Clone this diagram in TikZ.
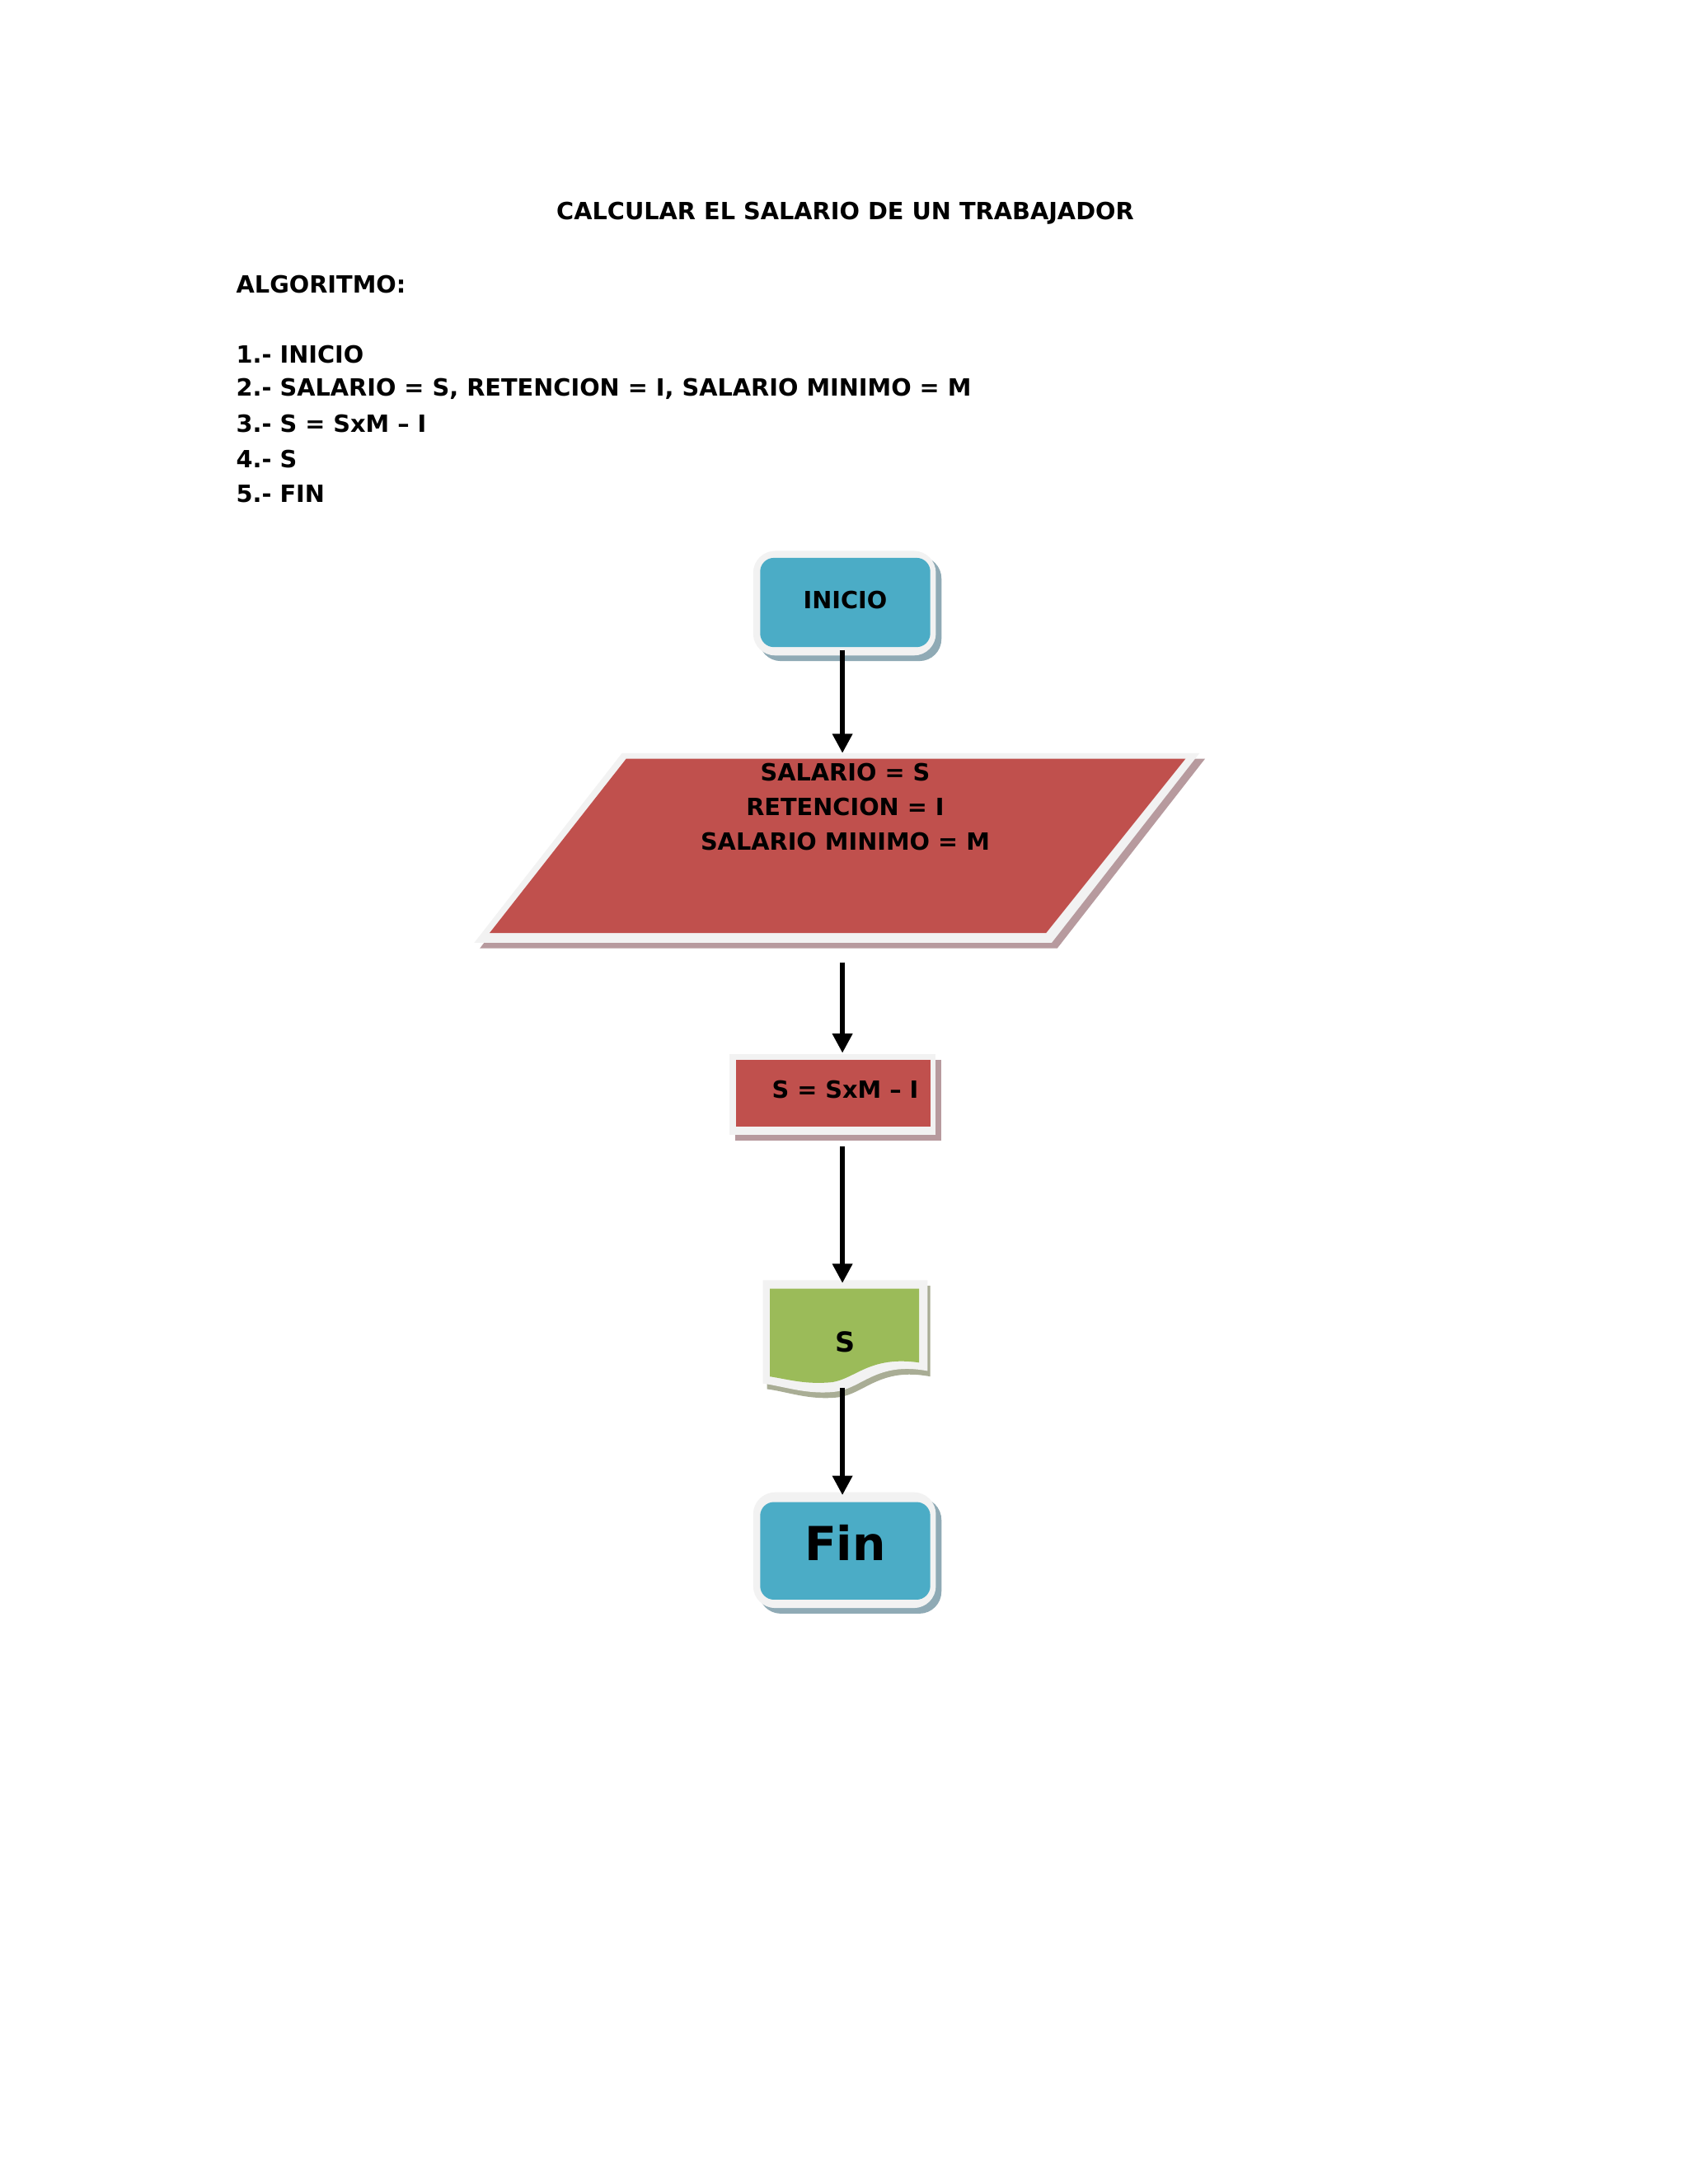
\documentclass[tikz,border=0pt]{standalone}
\usepackage{fontspec}
\setmainfont{DejaVu Sans}
\usetikzlibrary{arrows.meta}
\definecolor{cblue}{HTML}{4BACC6}
\definecolor{cred}{HTML}{C0504D}
\definecolor{cgreen}{HTML}{9BBB59}
\definecolor{cedge}{HTML}{F2F2F2}
\definecolor{sblue}{HTML}{8FAAB5}
\definecolor{sred}{HTML}{B79A9E}
\definecolor{sgreen}{HTML}{A9AD95}
\tikzset{
  txt/.style={font=\bfseries\fontsize{8.6}{10}\selectfont, inner sep=0pt},
  lbl/.style={font=\bfseries\fontsize{8.6}{12.6}\selectfont, inner sep=0pt, align=center},
  conn/.style={line width=1.6pt, -{Triangle[length=7pt,width=7pt]}},
}
\begin{document}
\begin{tikzpicture}[x=0.5058pt,y=-0.5058pt]
\useasboundingbox (0,0) rectangle (1210,1566);
\fill[white] (0,0) rectangle (1210,1566);
% header text
\node[txt] (title) at (606,153) {CALCULAR EL SALARIO DE UN TRABAJADOR};
\node[txt,anchor=west] (alg) at (169,204) {ALGORITMO:};
\node[txt,anchor=west] (l1) at (169,254) {1.- INICIO};
\node[txt,anchor=west] (l2) at (169,279) {2.- SALARIO = S, RETENCION = I, SALARIO MINIMO = M};
\node[txt,anchor=west] (l3) at (169,304) {3.- S = SxM -- I};
\node[txt,anchor=west] (l4) at (169,329) {4.- S};
\node[txt,anchor=west] (l5) at (169,354) {5.- FIN};
% INICIO
\fill[sblue,rounded corners=8] (544,399) rectangle (675,474);
\fill[cedge,rounded corners=8] (540,395) rectangle (671,470);
\fill[cblue,rounded corners=5] (545,400) rectangle (667,464);
\node[txt] (ini) at (606,430) {INICIO};
\coordinate (iniB) at (604,466);
% parallelogram
\fill[sred] (450,544) -- (864,544) -- (758,680) -- (344,680) -- cycle;
\fill[cedge] (446,540) -- (860,540) -- (754,676) -- (340,676) -- cycle;
\fill[cred] (449,544) -- (850,544) -- (750,669) -- (351,669) -- cycle;
\node[lbl,anchor=north] (par) at (606,547) {SALARIO = S\\RETENCION = I\\SALARIO MINIMO = M};
\coordinate (parT) at (604,540);
\coordinate (parB) at (604,690);
% process
\fill[sred] (527,760) rectangle (675,818);
\fill[cedge] (523,756) rectangle (671,814);
\fill[cred] (528,760) rectangle (667,808);
\node[txt] (proc) at (606,781) {S = SxM -- I};
\coordinate (procT) at (604,755);
\coordinate (procB) at (604,822);
% document
\fill[sgreen] (550,922) -- (667,922) -- (667,987) .. controls (630,980) and (620,1000) .. (600,1002) .. controls (580,1004) and (565,998) .. (550,996) -- cycle;
\fill[cedge] (547,918) -- (665,918) -- (665,983) .. controls (628,976) and (618,996) .. (598,998) .. controls (578,1000) and (562,994) .. (547,992) -- cycle;
\fill[cgreen] (552,924) -- (659,924) -- (659,977) .. controls (624,972) and (614,988) .. (597,991) .. controls (578,993) and (565,989) .. (552,987) -- cycle;
\node[txt,font=\bfseries\fontsize{10}{12}\selectfont] (doc) at (606,962) {S};
\coordinate (docT) at (604,920);
\coordinate (docB) at (604,995);
% Fin
\fill[sblue,rounded corners=8] (544,1074) rectangle (675,1157);
\fill[cedge,rounded corners=8] (540,1070) rectangle (671,1153);
\fill[cblue,rounded corners=5] (545,1077) rectangle (667,1147);
\node[txt,font=\bfseries\fontsize{17}{20}\selectfont] (fin) at (606,1106) {Fin};
\coordinate (finT) at (604,1072);
% connectors
\draw[conn] (iniB) -- (parT);
\draw[conn] (parB) -- (procT);
\draw[conn] (procB) -- (docT);
\draw[conn] (docB) -- (finT);
\end{tikzpicture}
\end{document}
